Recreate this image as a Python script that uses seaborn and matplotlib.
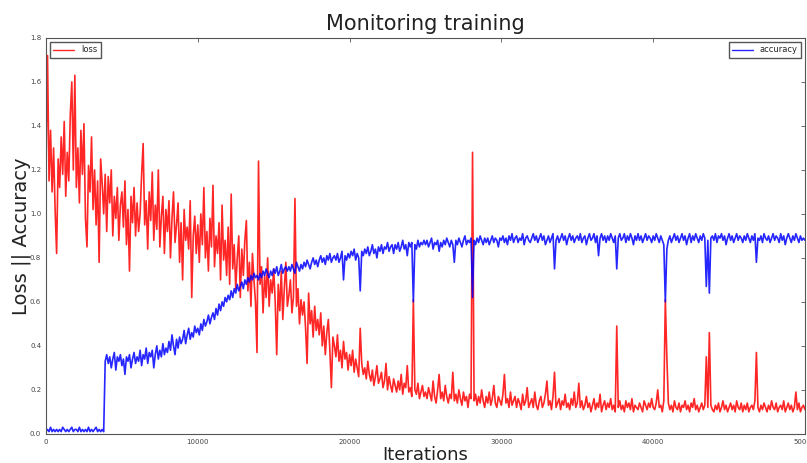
import numpy as np
import pandas as pd
import matplotlib
matplotlib.use("Agg")
import matplotlib.pyplot as plt
import seaborn as sns

# Loss values, one every 100 iterations (each row = 1000 iterations)
loss = [
    1.22, 1.72, 1.15, 1.38, 1.10, 1.30, 1.02, 0.82, 1.25, 1.12,
    1.35, 1.18, 1.42, 1.08, 1.28, 1.15, 1.45, 1.60, 1.20, 1.63,
    1.12, 1.30, 1.05, 1.38, 1.18, 1.41, 0.98, 0.85, 1.22, 1.10,
    1.35, 1.02, 1.20, 0.95, 1.15, 0.78, 1.25, 1.14, 1.00, 1.18,
    0.92, 1.17, 1.05, 1.20, 0.90, 1.08, 0.98, 1.12, 0.88, 1.04,
    1.10, 0.94, 1.15, 0.86, 1.02, 0.74, 1.08, 0.96, 1.12, 0.90,
    1.05, 0.92, 1.00, 1.18, 1.32, 0.95, 1.06, 0.84, 1.10, 0.97,
    1.19, 0.88, 1.04, 0.93, 1.20, 0.85, 0.99, 1.08, 0.82, 1.02,
    0.92, 1.06, 0.80, 0.98, 1.10, 0.87, 0.95, 1.05, 0.78, 0.96,
    0.70, 1.02, 0.88, 0.94, 0.84, 1.06, 0.62, 0.90, 0.99, 0.82,
    0.95, 0.78, 1.00, 0.86, 1.12, 0.80, 0.92, 0.74, 0.98, 0.85,
    1.13, 0.76, 0.90, 0.82, 0.96, 0.70, 1.04, 0.79, 0.88, 0.72,
    0.94, 0.68, 1.09, 0.75, 0.86, 0.66, 0.80, 0.90, 0.62, 0.84,
    0.72, 0.88, 0.97, 0.65, 0.78, 0.58, 0.82, 0.70, 0.60, 0.37,
    1.24, 0.68, 0.76, 0.55, 0.72, 0.62, 0.80, 0.58, 0.70, 0.64,
    0.75, 0.60, 0.36, 0.68, 0.56, 0.74, 0.52, 0.66, 0.78, 0.58,
    0.63, 0.70, 0.55, 0.62, 1.07, 0.58, 0.66, 0.50, 0.61, 0.54,
    0.60, 0.48, 0.32, 0.64, 0.50, 0.56, 0.44, 0.58, 0.47, 0.52,
    0.45, 0.55, 0.40, 0.49, 0.36, 0.46, 0.52, 0.38, 0.21, 0.44,
    0.40, 0.35, 0.45, 0.33, 0.38, 0.30, 0.42, 0.34, 0.37, 0.29,
    0.36, 0.31, 0.38, 0.28, 0.34, 0.30, 0.26, 0.48, 0.32, 0.27,
    0.30, 0.25, 0.33, 0.27, 0.24, 0.29, 0.22, 0.26, 0.31, 0.23,
    0.25, 0.28, 0.21, 0.24, 0.32, 0.20, 0.26, 0.22, 0.19, 0.25,
    0.22, 0.19, 0.24, 0.20, 0.27, 0.18, 0.23, 0.21, 0.31, 0.19,
    0.21, 0.17, 0.61, 0.20, 0.18, 0.23, 0.16, 0.19, 0.22, 0.17,
    0.19, 0.16, 0.21, 0.18, 0.15, 0.24, 0.17, 0.14, 0.20, 0.27,
    0.16, 0.19, 0.15, 0.22, 0.17, 0.14, 0.18, 0.16, 0.28, 0.15,
    0.18, 0.14, 0.20, 0.16, 0.13, 0.19, 0.15, 0.17, 0.12, 0.18,
    0.16, 1.28, 0.15, 0.18, 0.13, 0.17, 0.14, 0.20, 0.15, 0.12,
    0.17, 0.14, 0.19, 0.13, 0.16, 0.22, 0.14, 0.12, 0.17, 0.15,
    0.13, 0.18, 0.27, 0.14, 0.16, 0.12, 0.19, 0.13, 0.15, 0.17,
    0.12, 0.16, 0.14, 0.11, 0.18, 0.13, 0.15, 0.21, 0.12, 0.14,
    0.16, 0.12, 0.19, 0.13, 0.11, 0.15, 0.17, 0.12, 0.14, 0.18,
    0.24, 0.13, 0.15, 0.11, 0.17, 0.28, 0.12, 0.14, 0.16, 0.11,
    0.15, 0.13, 0.18, 0.12, 0.14, 0.11, 0.16, 0.13, 0.19, 0.12,
    0.14, 0.23, 0.12, 0.15, 0.11, 0.13, 0.17, 0.12, 0.14, 0.10,
    0.13, 0.16, 0.11, 0.14, 0.12, 0.18, 0.10, 0.13, 0.15, 0.11,
    0.14, 0.12, 0.16, 0.11, 0.13, 0.10, 0.49, 0.12, 0.15, 0.11,
    0.13, 0.10, 0.15, 0.12, 0.14, 0.11, 0.16, 0.10, 0.13, 0.12,
    0.11, 0.14, 0.12, 0.10, 0.15, 0.13, 0.11, 0.14, 0.12, 0.16,
    0.12, 0.11, 0.14, 0.20, 0.12, 0.13, 0.10, 0.15, 0.61, 0.35,
    0.14, 0.11, 0.13, 0.10, 0.15, 0.12, 0.11, 0.14, 0.10, 0.13,
    0.12, 0.15, 0.11, 0.13, 0.10, 0.14, 0.12, 0.16, 0.11, 0.13,
    0.10, 0.12, 0.14, 0.11, 0.13, 0.35, 0.12, 0.46, 0.13, 0.11,
    0.10, 0.13, 0.11, 0.14, 0.10, 0.12, 0.15, 0.11, 0.13, 0.10,
    0.12, 0.14, 0.11, 0.13, 0.10, 0.15, 0.12, 0.11, 0.14, 0.10,
    0.13, 0.11, 0.14, 0.10, 0.12, 0.13, 0.11, 0.15, 0.37, 0.12,
    0.10, 0.13, 0.11, 0.14, 0.12, 0.10, 0.13, 0.11, 0.15, 0.12,
    0.11, 0.14, 0.10, 0.12, 0.13, 0.11, 0.15, 0.10, 0.12, 0.14,
    0.11, 0.13, 0.10, 0.12, 0.19, 0.11, 0.14, 0.10, 0.12, 0.13,
    0.11,
]

# Accuracy values, one every 100 iterations
accuracy = [
    0.01, 0.02, 0.01, 0.03, 0.01, 0.02, 0.01, 0.02, 0.01, 0.02,
    0.01, 0.03, 0.02, 0.01, 0.02, 0.01, 0.02, 0.03, 0.01, 0.02,
    0.02, 0.01, 0.03, 0.01, 0.02, 0.01, 0.02, 0.01, 0.03, 0.01,
    0.02, 0.01, 0.02, 0.03, 0.01, 0.02, 0.01, 0.02, 0.01, 0.33,
    0.36, 0.32, 0.35, 0.30, 0.34, 0.37, 0.29, 0.35, 0.33, 0.36,
    0.31, 0.34, 0.27, 0.35, 0.33, 0.36, 0.30, 0.34, 0.37, 0.32,
    0.35, 0.33, 0.38, 0.31, 0.36, 0.34, 0.39, 0.32, 0.37, 0.35,
    0.38, 0.30, 0.36, 0.40, 0.34, 0.38, 0.35, 0.41, 0.36, 0.39,
    0.37, 0.42, 0.38, 0.45, 0.40, 0.36, 0.43, 0.39, 0.44, 0.41,
    0.43, 0.47, 0.41, 0.45, 0.48, 0.43, 0.46, 0.44, 0.49, 0.46,
    0.48, 0.45, 0.50, 0.47, 0.52, 0.49, 0.51, 0.54, 0.50, 0.53,
    0.55, 0.52, 0.57, 0.54, 0.59, 0.56, 0.60, 0.58, 0.62, 0.60,
    0.63, 0.61, 0.65, 0.62, 0.66, 0.64, 0.68, 0.65, 0.67, 0.69,
    0.66, 0.70, 0.68, 0.71, 0.69, 0.72, 0.70, 0.73, 0.71, 0.72,
    0.70, 0.73, 0.71, 0.74, 0.72, 0.75, 0.73, 0.71, 0.74, 0.72,
    0.75, 0.73, 0.76, 0.72, 0.74, 0.77, 0.73, 0.75, 0.76, 0.74,
    0.76, 0.74, 0.77, 0.75, 0.73, 0.78, 0.76, 0.74, 0.77, 0.75,
    0.78, 0.76, 0.79, 0.77, 0.75, 0.78, 0.80, 0.77, 0.79, 0.76,
    0.79, 0.81, 0.78, 0.80, 0.77, 0.81, 0.79, 0.82, 0.78, 0.80,
    0.81, 0.79, 0.82, 0.78, 0.80, 0.83, 0.70, 0.81, 0.79, 0.82,
    0.80, 0.83, 0.81, 0.84, 0.79, 0.82, 0.80, 0.65, 0.83, 0.81,
    0.84, 0.82, 0.85, 0.81, 0.83, 0.86, 0.82, 0.84, 0.80, 0.85,
    0.83, 0.86, 0.82, 0.85, 0.84, 0.87, 0.83, 0.85, 0.86, 0.82,
    0.86, 0.84, 0.87, 0.83, 0.85, 0.88, 0.84, 0.86, 0.81, 0.87,
    0.85, 0.87, 0.60, 0.86, 0.84, 0.88, 0.85, 0.87, 0.86, 0.88,
    0.86, 0.88, 0.85, 0.87, 0.89, 0.84, 0.87, 0.86, 0.88, 0.83,
    0.87, 0.85, 0.88, 0.86, 0.89, 0.87, 0.85, 0.88, 0.86, 0.78,
    0.88, 0.86, 0.89, 0.87, 0.85, 0.88, 0.90, 0.86, 0.88, 0.87,
    0.89, 0.62, 0.88, 0.86, 0.89, 0.87, 0.90, 0.88, 0.86, 0.89,
    0.87, 0.89, 0.86, 0.88, 0.90, 0.87, 0.89, 0.88, 0.85, 0.89,
    0.88, 0.90, 0.87, 0.89, 0.86, 0.90, 0.88, 0.91, 0.87, 0.89,
    0.90, 0.87, 0.89, 0.88, 0.91, 0.86, 0.89, 0.90, 0.88, 0.87,
    0.89, 0.91, 0.88, 0.90, 0.87, 0.89, 0.91, 0.88, 0.90, 0.86,
    0.88, 0.90, 0.87, 0.89, 0.91, 0.75, 0.88, 0.90, 0.87, 0.89,
    0.91, 0.88, 0.90, 0.86, 0.89, 0.91, 0.88, 0.90, 0.87, 0.89,
    0.90, 0.88, 0.91, 0.87, 0.89, 0.90, 0.86, 0.89, 0.91, 0.88,
    0.89, 0.91, 0.87, 0.90, 0.81, 0.89, 0.91, 0.88, 0.90, 0.87,
    0.90, 0.88, 0.91, 0.89, 0.87, 0.90, 0.75, 0.89, 0.91, 0.88,
    0.89, 0.91, 0.87, 0.90, 0.88, 0.91, 0.89, 0.86, 0.90, 0.88,
    0.91, 0.88, 0.90, 0.87, 0.89, 0.91, 0.88, 0.90, 0.89, 0.87,
    0.90, 0.88, 0.91, 0.89, 0.87, 0.90, 0.88, 0.86, 0.60, 0.84,
    0.88, 0.90, 0.87, 0.89, 0.91, 0.88, 0.90, 0.87, 0.89, 0.91,
    0.88, 0.90, 0.86, 0.89, 0.91, 0.87, 0.90, 0.88, 0.91, 0.89,
    0.87, 0.90, 0.88, 0.91, 0.89, 0.67, 0.88, 0.64, 0.89, 0.90,
    0.88, 0.91, 0.87, 0.90, 0.89, 0.91, 0.88, 0.90, 0.86, 0.89,
    0.91, 0.88, 0.90, 0.87, 0.89, 0.91, 0.88, 0.90, 0.89, 0.87,
    0.90, 0.88, 0.91, 0.89, 0.87, 0.90, 0.88, 0.91, 0.78, 0.89,
    0.88, 0.90, 0.87, 0.91, 0.89, 0.88, 0.90, 0.87, 0.89, 0.91,
    0.88, 0.90, 0.89, 0.87, 0.91, 0.88, 0.90, 0.86, 0.89, 0.91,
    0.89, 0.87, 0.90, 0.88, 0.91, 0.89, 0.87, 0.90, 0.88, 0.89,
    0.88,
]

log_step = 100
iterations = np.arange(len(loss)) * log_step

x_ticks = [0, 10000, 20000, 30000, 40000, 50000]
y_ticks = [0.0, 0.2, 0.4, 0.6, 0.8, 1.0, 1.2, 1.4, 1.6, 1.8]

df = pd.DataFrame({"iter": iterations, "loss": loss, "accuracy": accuracy})

sns.set_style("white")
plt.rcParams["font.family"] = ["DejaVu Sans"]

fig = plt.figure(figsize=(8.07, 4.63), dpi=100)
ax = fig.add_axes([0.057, 0.063, 0.9405, 0.855])

sns.lineplot(data=df, x="iter", y="loss", color="#ff0000", lw=1.2, alpha=0.85,
             ax=ax, label="loss")
sns.lineplot(data=df, x="iter", y="accuracy", color="#0000ff", lw=1.2, alpha=0.85,
             ax=ax, label="accuracy")

ax.set_xlim(0, 50000)
ax.set_ylim(0, 1.8)
ax.set_xticks(x_ticks)
ax.set_yticks(y_ticks)
ax.set_xticklabels([str(t) for t in x_ticks])
ax.set_yticklabels([f"{t:.1f}" for t in y_ticks])
ax.tick_params(direction="in", top=True, right=True, labelsize=5,
               labelcolor="#444444", length=3, width=0.6, color="#555555")
for s in ax.spines.values():
    s.set_color("#555555")
    s.set_linewidth(0.8)

ax.set_title("Monitoring training", fontsize=15, color="#222222", pad=6)
ax.set_xlabel("Iterations", fontsize=13, color="#222222", labelpad=1)
ax.set_ylabel("Loss || Accuracy", fontsize=14, color="#222222")
ax.yaxis.set_label_coords(-0.02, 0.5)

handles, labels = ax.get_legend_handles_labels()
leg1 = ax.legend([handles[0]], [labels[0]], loc="upper left", fontsize=6,
                 fancybox=False, edgecolor="#555555", framealpha=1,
                 handlelength=2.5, borderaxespad=0.5)
for l in leg1.get_lines():
    l.set_linewidth(1.0)
ax.add_artist(leg1)
leg2 = ax.legend([handles[1]], [labels[1]], loc="upper right", fontsize=6,
                 fancybox=False, edgecolor="#555555", framealpha=1,
                 handlelength=2.5, borderaxespad=0.5)
for l in leg2.get_lines():
    l.set_linewidth(1.0)

fig.savefig("out.png", dpi=100)
